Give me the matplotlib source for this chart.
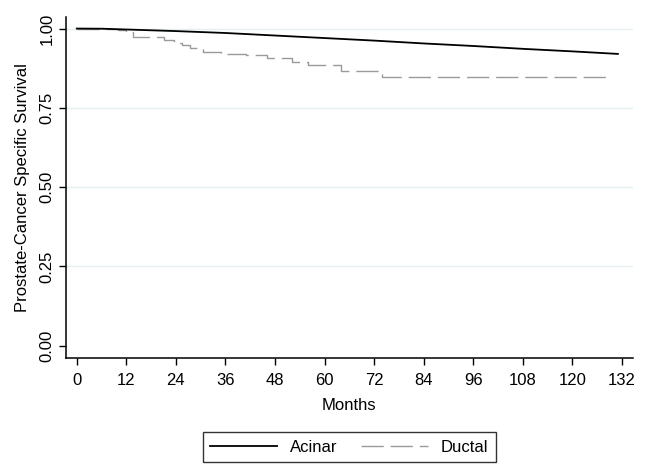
import numpy as np
import matplotlib
matplotlib.use('Agg')
import matplotlib.pyplot as plt

plt.rcParams['font.family'] = ['Liberation Sans', 'DejaVu Sans']

# --- datos (meses, supervivencia) ---
acinar_t = [0, 6, 12, 24, 36, 48, 60, 72, 84, 96, 108, 120, 131]
acinar_s = [1.0, 0.9995, 0.997, 0.992, 0.986, 0.978, 0.970, 0.962, 0.953, 0.945, 0.936, 0.928, 0.920]

ductal_t = [0, 10, 12, 13.5, 21, 23.5, 25.5, 27.5, 30.5, 35, 41, 46, 52, 56, 64, 74, 129]
ductal_s = [1.0, 0.995, 0.988, 0.973, 0.965, 0.955, 0.947, 0.938, 0.927, 0.920, 0.915, 0.908, 0.894, 0.884, 0.867, 0.847, 0.847]

xticks = list(range(0, 133, 12))
yticks = [0.0, 0.25, 0.5, 0.75, 1.0]
grid_y = [0.25, 0.5, 0.75, 1.0]

fs = 12

fig = plt.figure(figsize=(6.45, 4.76), dpi=100)
ax = fig.add_axes([0.102, 0.248, 0.879, 0.716])

for g in grid_y:
    ax.axhline(g, color='#e3eff1', linewidth=1.0, zorder=0)

ax.step(ductal_t, ductal_s, where='post', color='#9a9a9a', linewidth=1.0,
        dashes=(16, 5), label='Ductal', zorder=2)
ax.plot(acinar_t, acinar_s, color='black', linewidth=1.3, label='Acinar', zorder=3)

ax.set_xlim(-2.66, 134.6)
ax.set_ylim(-0.039, 1.036)
ax.set_xticks(xticks)
ax.set_yticks(yticks)
ax.set_yticklabels(['%.2f' % v for v in yticks], rotation=90, va='center')
ax.tick_params(axis='both', direction='out', length=5, width=1, labelsize=fs,
               colors='black')
ax.tick_params(axis='x', pad=6)
ax.tick_params(axis='y', pad=3)

for s in ['top', 'right']:
    ax.spines[s].set_visible(False)
for s in ['left', 'bottom']:
    ax.spines[s].set_linewidth(1.1)

ax.set_xlabel('Months', fontsize=fs, labelpad=7)
ax.set_ylabel('Prostate-Cancer Specific Survival', fontsize=fs, labelpad=7)

h, l = ax.get_legend_handles_labels()
leg = ax.legend([h[1], h[0]], [l[1], l[0]], loc='center', bbox_to_anchor=(0.5, -0.262),
                ncol=2, frameon=True, fancybox=False, fontsize=fs,
                handlelength=4.0, columnspacing=1.4, borderpad=0.45)
leg.get_frame().set_edgecolor('black')
leg.get_frame().set_linewidth(1.0)

fig.savefig('out.png', dpi=100)
